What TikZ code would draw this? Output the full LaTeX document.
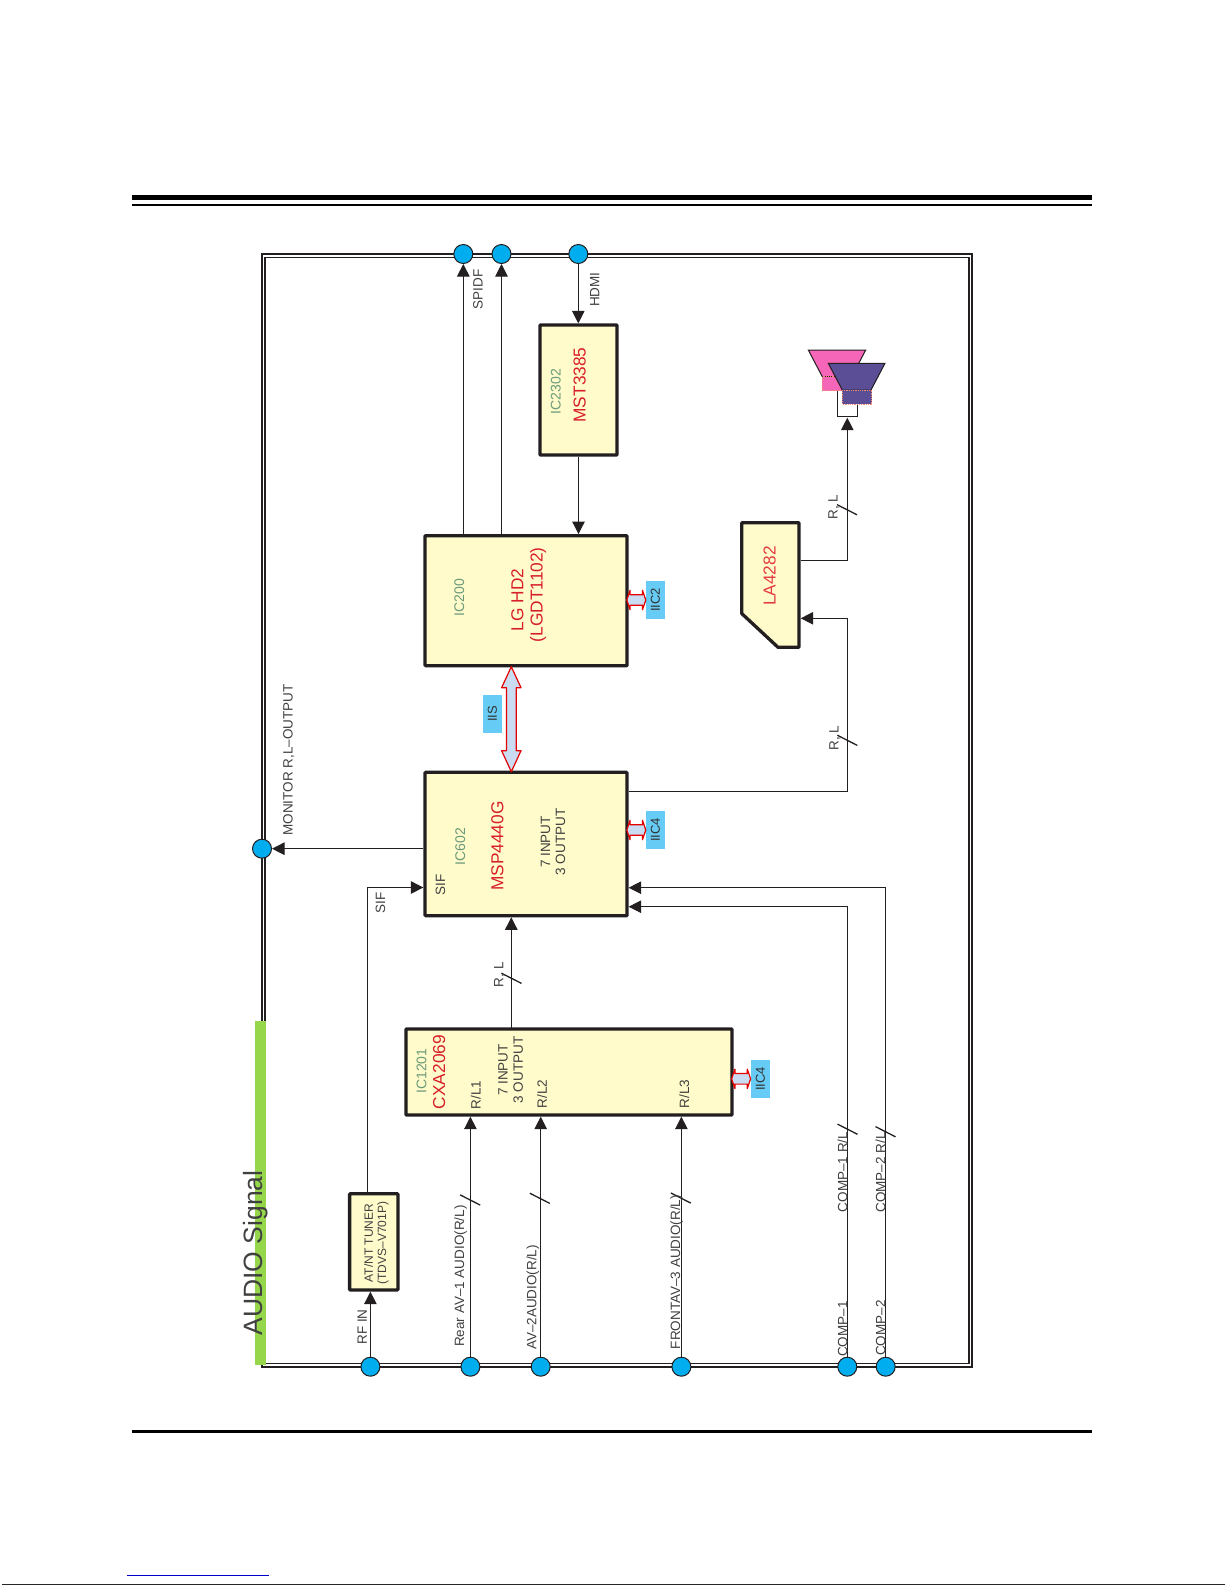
\documentclass[tikz,border=0pt]{standalone}
\usepackage{fontspec}
\setmainfont{Liberation Sans}
\usetikzlibrary{arrows.meta,calc}
\definecolor{inkdark}{HTML}{231F20}
\definecolor{chipfill}{HTML}{FFFBCB}
\definecolor{chipred}{HTML}{D81E28}
\definecolor{lared}{HTML}{E43B45}
\definecolor{chipgreen}{HTML}{6C9A7A}
\definecolor{portblue}{HTML}{00AEEF}
\definecolor{buslabelblue}{HTML}{66CCF5}
\definecolor{busfill}{HTML}{C9DCF2}
\definecolor{barGreen}{HTML}{96D64A}
\definecolor{spkpink}{HTML}{F566B8}
\definecolor{spkpurple}{HTML}{5B4E96}
\definecolor{spkdot}{HTML}{F08A70}
\tikzset{
  block/.style={draw=inkdark,fill=chipfill,line width=3.3pt,rounded corners=0.8pt,inner sep=0pt},
  port/.style={circle,draw=inkdark,fill=portblue,line width=1pt,minimum size=19pt,inner sep=0pt},
  sigline/.style={draw=inkdark,line width=1pt},
  sigarrow/.style={sigline,-{Triangle[length=12.5pt,width=12.5pt]}},
  slashmark/.style={draw=inkdark,line width=1.3pt},
  lbl/.style={rotate=90,anchor=base,inner sep=0pt,text=black!75,font=\fontsize{13.5}{15}\selectfont},
  chipid/.style={lbl,text=chipgreen,font=\fontsize{14}{15}\selectfont},
  chipname/.style={lbl,text=chipred,font=\fontsize{17.3}{18}\selectfont},
  buslabel/.style={rotate=90,fill=buslabelblue,minimum width=38pt,minimum height=19pt,inner sep=0pt,text=black!80,font=\fontsize{13}{14}\selectfont},
  busline/.style={draw=red!90!black,fill=busfill,line width=1.2pt,line join=round},
  iicbus/.pic={\draw[busline] (0,0) -- ++(-3.3,-9.7) -- ++(0,4.4) -- ++(-12.4,0) -- ++(0,-4.4) -- ++(-3.3,9.7) -- ++(3.3,9.7) -- ++(0,-4.4) -- ++(12.4,0) -- ++(0,4.4) -- cycle;}
}
\newcommand{\slashat}[1]{\draw[slashmark] (#1) ++(-10,-5.1) -- ++(20,10.2);}
\begin{document}
\begin{tikzpicture}[x=1pt,y=-1pt]
\useasboundingbox (0,0) rectangle (1225,1585);

% page rules
\fill[black] (132,195) rectangle (1092,200.3);
\fill[black] (132,204) rectangle (1092,206);
\fill[black] (132,1429.5) rectangle (1092,1433);
\fill[blue!80!black] (127,1574.8) rectangle (268.7,1575.8);
\fill[black!85] (2,1584) rectangle (1225,1585);

% frame
\draw[draw=inkdark,line width=1.8pt] (262,254) rectangle (972,1366.7);
\draw[draw=inkdark,line width=1.3pt] (265,257.3) rectangle (969,1363.3);
\fill[barGreen] (255,1021) rectangle (265.7,1365);

% chips
\node[block,minimum width=202pt,minimum height=143.4pt] (msp) at (526,844) {};
\node[block,minimum width=202pt,minimum height=130pt] (lg) at (526,600.7) {};
\node[block,minimum width=77pt,minimum height=130pt] (mst) at (578.5,390) {};
\node[block,minimum width=326pt,minimum height=86pt] (cxa) at (569,1072) {};
\node[block,minimum width=48.3pt,minimum height=96.3pt] (tuner) at (373.75,1241.85) {};
\draw[draw=inkdark,fill=chipfill,line width=3.3pt,line join=round] (741.7,522.7) -- (799,522.7) -- (799,647.3) -- (778,647.3) -- (741.7,613.5) -- cycle;
\coordinate (laout) at (800.7,560.7);
\coordinate (lainp) at (800.7,618.3);

% speakers
\coordinate (spk) at (847.3,417.7);
\draw[draw=inkdark,line width=1.2pt] (837.7,390.7) -- (837.7,416.7) -- (857.3,416.7) -- (857.3,404);
\draw[draw=inkdark,fill=spkpink,line width=1pt] (808.3,350) -- (865.7,350) -- (851.7,376.7) -- (822.3,376.7) -- cycle;
\draw[draw=spkdot,fill=spkpink,densely dotted,line width=0.8pt] (822.3,376.7) rectangle (843,390.7);
\draw[draw=inkdark,fill=spkpurple,line width=1pt] (828.3,363.3) -- (885,363.3) -- (871,390) -- (842.3,390) -- cycle;
\draw[draw=spkdot,fill=spkpurple,densely dotted,line width=0.8pt] (842.3,390) rectangle (871.7,404);

% ports
\node[port] (rfin) at (370.4,1366.7) {};
\node[port] (rear) at (470.4,1366.7) {};
\node[port] (avtwo) at (540.7,1366.7) {};
\node[port] (front) at (681.4,1366.7) {};
\node[port] (compa) at (847.3,1366.7) {};
\node[port] (compb) at (885.7,1366.7) {};
\node[port] (spdif) at (463.3,254) {};
\node[port] (lgout) at (501.5,254) {};
\node[port] (hdmi) at (578.3,254) {};
\node[port] (monitor) at (262,848.7) {};

% signals
\draw[sigarrow] (rfin) -- (rfin |- tuner.south);
\draw[sigarrow] (rear) -- (rear |- cxa.south);
\draw[sigarrow] (avtwo) -- (avtwo |- cxa.south);
\draw[sigarrow] (front) -- (front |- cxa.south);
\draw[sigarrow] (compa) |- (msp.east |- 0,906.7);
\draw[sigarrow] (compb) |- (msp.east |- 0,887.7);
\draw[sigarrow] (367.3,1192) |- (msp.west |- 0,887.5);
\draw[sigarrow] (msp.west |- monitor) -- (monitor);
\draw[sigarrow] (511.3,1027.5) -- (511.3,917.3);
\draw[sigarrow] (spdif |- lg.north) -- (spdif);
\draw[sigarrow] (lgout |- lg.north) -- (lgout);
\draw[sigarrow] (hdmi) -- (hdmi |- mst.north);
\draw[sigarrow] (mst.south) -- (mst.south |- lg.north);
\draw[sigline] (msp.east |- 0,791) -| (847.3,618.3);
\draw[sigarrow] (847.3,618.3) -- (lainp);
\draw[sigarrow,line width=1.3pt] (laout) -| (spk);

\slashat{470.2,1200}
\slashat{539.8,1198.3}
\slashat{680.8,1198}
\slashat{847.5,1129.2}
\slashat{885.5,1131.7}
\slashat{511.5,978.3}
\slashat{847.3,740.3}
\slashat{847,509.7}

% buses
\coordinate (iistop) at (511.3,666.7);
\draw[busline] (iistop) -- ++(9.7,21) -- ++(-4.8,0) -- ++(0,63) -- ++(4.8,0) -- ++(-9.7,21) -- ++(-9.7,-21) -- ++(4.8,0) -- ++(0,-63) -- ++(-4.8,0) -- cycle;
\node[buslabel] (iis) at (492.3,713.8) {IIS};
\node[buslabel] (iicmsp) at (655.5,830) {IIC4};
\node[buslabel] (iiclg) at (655.5,600) {IIC2};
\node[buslabel] (iiccxa) at (760.3,1078.8) {IIC4};
\pic at (iicmsp.north) {iicbus};
\pic at (iiclg.north) {iicbus};
\pic at (iiccxa.north) {iicbus};

% chip texts
\node[chipid] (mspid) at (465,846.7) {IC602};
\node[chipname] (mspname) at (503.3,846) {MSP4440G};
\node[lbl] (mspsif) at (445,885) {SIF};
\node[lbl] (mspinp) at (550,842) {7 INPUT};
\node[lbl] (mspout) at (565,842) {3 OUTPUT};
\node[chipid] (lgid) at (464,597.5) {IC200};
\node[chipname] (lgname) at (523.3,600) {LG HD2};
\node[chipname] (lgpart) at (542.7,594.7) {(LGDT1102)};
\node[chipid] (mstid) at (560.7,391.7) {IC2302};
\node[chipname] (mstname) at (585.7,385) {MST3385};
\node[chipid] (cxaid) at (426.4,1071) {IC1201};
\node[chipname] (cxaname) at (445,1072) {CXA2069};
\node[lbl] (cxaa) at (480.7,1095) {R/L1};
\node[lbl] (cxab) at (546.8,1094) {R/L2};
\node[lbl] (cxac) at (689,1094) {R/L3};
\node[lbl] (cxainp) at (507.5,1070) {7 INPUT};
\node[lbl] (cxaout) at (522.9,1070) {3 OUTPUT};
\node[lbl,font=\fontsize{12}{13}\selectfont] (tunera) at (372.9,1243) {AT/NT TUNER};
\node[lbl,font=\fontsize{12}{13}\selectfont] (tunerb) at (386,1243) {(TDVS–V701P)};
\node[chipname,text=lared] (laname) at (775.7,576) {LA4282};

% signal labels
\node[lbl,font=\fontsize{26.5}{28}\selectfont] (title) at (262,1253) {AUDIO Signal};
\node[lbl] (rflabel) at (366.8,1327) {RF IN};
\node[lbl] (rearlabel) at (464,1276) {Rear AV–1 AUDIO(R/L)};
\node[lbl] (avlabel) at (536.4,1297.5) {AV–2AUDIO(R/L)};
\node[lbl] (frontlabel) at (680,1272) {FRONTAV–3 AUDIO(R/L)};
\node[lbl] (compalabel) at (847.3,1329) {COMP–1};
\node[lbl] (compblabel) at (885.3,1328) {COMP–2};
\node[lbl] (compc) at (847.3,1172) {COMP–1 R/L};
\node[lbl] (compd) at (885.3,1172.5) {COMP–2 R/L};
\node[lbl] (monlabel) at (292.7,760) {MONITOR R,L–OUTPUT};
\node[lbl] (siflabel) at (385,903) {SIF};
\node[lbl] (spdiflabel) at (482.7,289.5) {SPIDF};
\node[lbl] (hdmilabel) at (599.3,289.7) {HDMI};
\node[lbl] (rla) at (503.3,974.7) {R, L};
\node[lbl] (rlb) at (838.7,738) {R, L};
\node[lbl] (rlc) at (837.7,507) {R, L};
\end{tikzpicture}
\end{document}
